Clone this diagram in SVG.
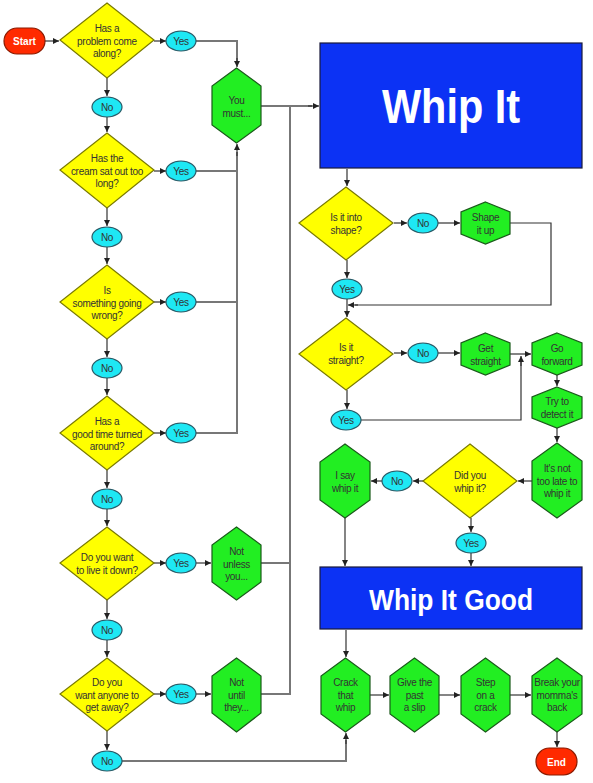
<svg xmlns="http://www.w3.org/2000/svg" width="593" height="783" viewBox="0 0 593 783">
<defs>
<marker id="ah" markerUnits="userSpaceOnUse" markerWidth="7" markerHeight="7" refX="6" refY="3" orient="auto">
<path d="M0,0 L6,3 L0,6 z" fill="#222"/>
</marker>
<style>
.dia{fill:#ffff00;stroke:#7a7a00;stroke-width:1.2}
.ell{fill:#1ee8f4;stroke:#2a5a66;stroke-width:1.2}
.hex{fill:#22ee22;stroke:#1a5a1a;stroke-width:1.2}
.term{fill:#ff2a00;stroke:#8a1a00;stroke-width:1.2}
.box{fill:#0c32f4;stroke:#1a1a3a;stroke-width:1.2}
.t{font-family:"Liberation Sans",Arial,sans-serif;font-size:10px;fill:#333;text-anchor:middle;letter-spacing:-0.3px}
.tw{font-family:"Liberation Sans",Arial,sans-serif;font-size:10px;font-weight:bold;fill:#fff;text-anchor:middle}
.big{font-family:"Liberation Sans",Arial,sans-serif;font-weight:bold;fill:#fff;text-anchor:middle}
.c{fill:none;stroke:#333;stroke-width:1.2}
.g{fill:none;stroke:#777;stroke-width:2}
.a{marker-end:url(#ah)}
</style>
</defs>
<rect width="593" height="783" fill="#fff"/>

<g id="connectors">
<line class="c a" x1="45" y1="41" x2="59" y2="41"/>
<line class="c a" x1="154" y1="41" x2="166" y2="41"/>
<polyline class="g" points="196,41 237,41 237,62"/>
<line class="c a" x1="237" y1="58" x2="237" y2="67"/>
<line class="c a" x1="107" y1="78" x2="107" y2="96"/>
<line class="c a" x1="107" y1="117" x2="107" y2="132"/>
<line class="c a" x1="154" y1="171" x2="166" y2="171"/>
<line class="g" x1="196" y1="171" x2="237" y2="171"/>
<line class="c a" x1="107" y1="208" x2="107" y2="226"/>
<line class="c a" x1="107" y1="247" x2="107" y2="264"/>
<line class="c a" x1="154" y1="302" x2="166" y2="302"/>
<line class="g" x1="196" y1="302" x2="237" y2="302"/>
<line class="c a" x1="107" y1="339" x2="107" y2="357"/>
<line class="c a" x1="107" y1="378" x2="107" y2="395"/>
<line class="c a" x1="154" y1="433" x2="166" y2="433"/>
<polyline class="g" points="196,433 237,433 237,152"/>
<line class="c a" x1="237" y1="156" x2="237" y2="144"/>
<line class="c a" x1="107" y1="470" x2="107" y2="488"/>
<line class="c a" x1="107" y1="509" x2="107" y2="526"/>
<line class="c a" x1="154" y1="563" x2="166" y2="563"/>
<line class="c a" x1="196" y1="563" x2="211" y2="563"/>
<line class="g" x1="261" y1="563" x2="290" y2="563"/>
<line class="c a" x1="107" y1="600" x2="107" y2="619"/>
<line class="c a" x1="107" y1="640" x2="107" y2="657"/>
<line class="c a" x1="154" y1="694" x2="166" y2="694"/>
<line class="c a" x1="196" y1="694" x2="211" y2="694"/>
<polyline class="g" points="261,694 290,694 290,106"/>
<line class="g" x1="261" y1="106" x2="312" y2="106"/>
<line class="c a" x1="308" y1="106" x2="319" y2="106"/>
<line class="c a" x1="107" y1="731" x2="107" y2="750"/>
<polyline class="g" points="122,761 346,761 346,740"/>
<line class="c a" x1="346" y1="744" x2="346" y2="733"/>
<line class="c a" x1="347" y1="169" x2="347" y2="186"/>
<line class="c a" x1="394" y1="223" x2="407" y2="223"/>
<line class="c a" x1="438" y1="223" x2="460" y2="223"/>
<polyline class="c" points="510,223 551,223 551,305 355,305"/>
<line class="c a" x1="358" y1="305" x2="348" y2="305"/>
<line class="c a" x1="347" y1="260" x2="347" y2="278"/>
<line class="c a" x1="347" y1="299" x2="347" y2="317"/>
<line class="c a" x1="394" y1="353" x2="407" y2="353"/>
<line class="c a" x1="438" y1="353" x2="460" y2="353"/>
<line class="c a" x1="510" y1="354" x2="531" y2="354"/>
<polyline class="c" points="361,420 521,420 521,362"/>
<line class="c a" x1="521" y1="366" x2="521" y2="356"/>
<line class="c a" x1="347" y1="390" x2="347" y2="409"/>
<line class="c a" x1="557" y1="375" x2="557" y2="386"/>
<line class="c a" x1="557" y1="428" x2="557" y2="442"/>
<line class="c a" x1="532" y1="481" x2="518" y2="481"/>
<line class="c a" x1="424" y1="481" x2="413" y2="481"/>
<line class="c a" x1="382" y1="481" x2="371" y2="481"/>
<line class="c a" x1="345" y1="518" x2="345" y2="566"/>
<line class="c a" x1="471" y1="518" x2="471" y2="532"/>
<line class="c a" x1="471" y1="553" x2="471" y2="566"/>
<line class="c a" x1="346" y1="630" x2="346" y2="657"/>
<line class="c a" x1="370" y1="695" x2="389" y2="695"/>
<line class="c a" x1="439" y1="695" x2="460" y2="695"/>
<line class="c a" x1="510" y1="695" x2="531" y2="695"/>
<line class="c a" x1="557" y1="732" x2="557" y2="747"/>
</g>

<g id="start">
<rect class="term" x="4" y="28" width="41" height="26" rx="13"/>
<text class="tw" x="24.5" y="45">Start</text>
</g>

<g id="q1">
<polygon class="dia" points="107,3 154,40 107,78 60,40"/>
<text class="t" x="107" y="32">Has a<tspan x="107" dy="12.5">problem come</tspan><tspan x="107" dy="12.5">along?</tspan></text>
</g>
<g id="yes1"><ellipse class="ell" cx="181" cy="41" rx="15" ry="10"/><text class="t" x="181" y="44.5">Yes</text></g>
<g id="no1"><ellipse class="ell" cx="107" cy="107" rx="15" ry="10"/><text class="t" x="107" y="110.5">No</text></g>

<g id="q2">
<polygon class="dia" points="107,133 154,170 107,208 60,170"/>
<text class="t" x="107" y="162">Has the<tspan x="107" dy="12.5">cream sat out too</tspan><tspan x="107" dy="12.5">long?</tspan></text>
</g>
<g id="yes2"><ellipse class="ell" cx="181" cy="171" rx="15" ry="10"/><text class="t" x="181" y="174.5">Yes</text></g>
<g id="no2"><ellipse class="ell" cx="107" cy="237" rx="15" ry="10"/><text class="t" x="107" y="240.5">No</text></g>

<g id="q3">
<polygon class="dia" points="107,265 154,302 107,339 60,302"/>
<text class="t" x="107" y="294">Is<tspan x="107" dy="12.5">something going</tspan><tspan x="107" dy="12.5">wrong?</tspan></text>
</g>
<g id="yes3"><ellipse class="ell" cx="181" cy="302" rx="15" ry="10"/><text class="t" x="181" y="305.5">Yes</text></g>
<g id="no3"><ellipse class="ell" cx="107" cy="368" rx="15" ry="10"/><text class="t" x="107" y="371.5">No</text></g>

<g id="q4">
<polygon class="dia" points="107,396 154,433 107,470 60,433"/>
<text class="t" x="107" y="425">Has a<tspan x="107" dy="12.5">good time turned</tspan><tspan x="107" dy="12.5">around?</tspan></text>
</g>
<g id="yes4"><ellipse class="ell" cx="181" cy="433" rx="15" ry="10"/><text class="t" x="181" y="436.5">Yes</text></g>
<g id="no4"><ellipse class="ell" cx="107" cy="499" rx="15" ry="10"/><text class="t" x="107" y="502.5">No</text></g>

<g id="q5">
<polygon class="dia" points="107,527 154,563 107,600 60,563"/>
<text class="t" x="107" y="561">Do you want<tspan x="107" dy="12.5">to live it down?</tspan></text>
</g>
<g id="yes5"><ellipse class="ell" cx="181" cy="563" rx="15" ry="10"/><text class="t" x="181" y="566.5">Yes</text></g>
<g id="no5"><ellipse class="ell" cx="107" cy="630" rx="15" ry="10"/><text class="t" x="107" y="633.5">No</text></g>

<g id="q6">
<polygon class="dia" points="107,658 154,694 107,731 60,694"/>
<text class="t" x="107" y="686">Do you<tspan x="107" dy="12.5">want anyone to</tspan><tspan x="107" dy="12.5">get away?</tspan></text>
</g>
<g id="yes6"><ellipse class="ell" cx="181" cy="694" rx="15" ry="10"/><text class="t" x="181" y="697.5">Yes</text></g>
<g id="no6"><ellipse class="ell" cx="107" cy="761" rx="15" ry="10"/><text class="t" x="107" y="764.5">No</text></g>

<g id="you-must">
<polygon class="hex" points="236.5,68 261,86 261,125 236.5,143 212,125 212,86"/>
<text class="t" x="236.5" y="104">You<tspan x="236.5" dy="12.5">must...</tspan></text>
</g>
<g id="not-unless">
<polygon class="hex" points="236.5,527 261,545 261,582 236.5,600 212,582 212,545"/>
<text class="t" x="236.5" y="555">Not<tspan x="236.5" dy="12.5">unless</tspan><tspan x="236.5" dy="12.5">you...</tspan></text>
</g>
<g id="not-until">
<polygon class="hex" points="236.5,658 261,676 261,713 236.5,732 212,713 212,676"/>
<text class="t" x="236.5" y="686">Not<tspan x="236.5" dy="12.5">until</tspan><tspan x="236.5" dy="12.5">they...</tspan></text>
</g>

<g id="whip-it">
<rect class="box" x="320" y="43" width="262" height="125"/>
<text class="big" x="451" y="123" font-size="48" textLength="138" lengthAdjust="spacingAndGlyphs">Whip It</text>
</g>

<g id="q7">
<polygon class="dia" points="346,187 393,223 346,260 299,223"/>
<text class="t" x="346" y="221">Is it into<tspan x="346" dy="12.5">shape?</tspan></text>
</g>
<g id="no7"><ellipse class="ell" cx="423" cy="223" rx="15" ry="10"/><text class="t" x="423" y="226.5">No</text></g>
<g id="shape-it-up">
<polygon class="hex" points="485.5,202 510,212 510,234 485.5,244 461,234 461,212"/>
<text class="t" x="485.5" y="221">Shape<tspan x="485.5" dy="12.5">it up</tspan></text>
</g>
<g id="yes7"><ellipse class="ell" cx="347" cy="289" rx="15" ry="10"/><text class="t" x="347" y="292.5">Yes</text></g>

<g id="q8">
<polygon class="dia" points="346,318 393,354 346,390 299,354"/>
<text class="t" x="346" y="351">Is it<tspan x="346" dy="12.5">straight?</tspan></text>
</g>
<g id="no8"><ellipse class="ell" cx="423" cy="353" rx="15" ry="10"/><text class="t" x="423" y="356.5">No</text></g>
<g id="get-straight">
<polygon class="hex" points="485.5,333 510,343 510,365 485.5,375 461,365 461,343"/>
<text class="t" x="485.5" y="352">Get<tspan x="485.5" dy="12.5">straight</tspan></text>
</g>
<g id="go-forward">
<polygon class="hex" points="557,333 582,343 582,365 557,375 532,365 532,343"/>
<text class="t" x="557" y="352">Go<tspan x="557" dy="12.5">forward</tspan></text>
</g>
<g id="yes8"><ellipse class="ell" cx="346" cy="420" rx="15" ry="10"/><text class="t" x="346" y="423.5">Yes</text></g>
<g id="try-to-detect">
<polygon class="hex" points="557,387 582,397 582,418 557,428 532,418 532,397"/>
<text class="t" x="557" y="405">Try to<tspan x="557" dy="12.5">detect it</tspan></text>
</g>
<g id="not-too-late">
<polygon class="hex" points="557,443 582,461 582,500 557,518 532,500 532,461"/>
<text class="t" x="557" y="472">It's not<tspan x="557" dy="12.5">too late to</tspan><tspan x="557" dy="12.5">whip it</tspan></text>
</g>
<g id="q9">
<polygon class="dia" points="470,444 517,481 470,518 423,481"/>
<text class="t" x="470" y="479">Did you<tspan x="470" dy="12.5">whip it?</tspan></text>
</g>
<g id="no9"><ellipse class="ell" cx="397" cy="481" rx="15" ry="10"/><text class="t" x="397" y="484.5">No</text></g>
<g id="i-say">
<polygon class="hex" points="345,444 370,462 370,500 345,518 320,500 320,462"/>
<text class="t" x="345" y="479">I say<tspan x="345" dy="12.5">whip it</tspan></text>
</g>
<g id="yes9"><ellipse class="ell" cx="471" cy="543" rx="15" ry="10"/><text class="t" x="471" y="546.5">Yes</text></g>

<g id="whip-it-good">
<rect class="box" x="320" y="567" width="262" height="62"/>
<text class="big" x="451" y="610" font-size="29" textLength="164" lengthAdjust="spacingAndGlyphs">Whip It Good</text>
</g>

<g id="crack-that-whip">
<polygon class="hex" points="345.5,658 370,676 370,714 345.5,732 321,714 321,676"/>
<text class="t" x="345.5" y="686">Crack<tspan x="345.5" dy="12.5">that</tspan><tspan x="345.5" dy="12.5">whip</tspan></text>
</g>
<g id="give-the-past">
<polygon class="hex" points="414.5,658 439,676 439,714 414.5,732 390,714 390,676"/>
<text class="t" x="414.5" y="686">Give the<tspan x="414.5" dy="12.5">past</tspan><tspan x="414.5" dy="12.5">a slip</tspan></text>
</g>
<g id="step-on-a-crack">
<polygon class="hex" points="485.5,658 510,676 510,714 485.5,732 461,714 461,676"/>
<text class="t" x="485.5" y="686">Step<tspan x="485.5" dy="12.5">on a</tspan><tspan x="485.5" dy="12.5">crack</tspan></text>
</g>
<g id="break-your-back">
<polygon class="hex" points="557,658 582,676 582,714 557,732 532,714 532,676"/>
<text class="t" x="557" y="686">Break your<tspan x="557" dy="12.5">momma's</tspan><tspan x="557" dy="12.5">back</tspan></text>
</g>
<g id="end">
<rect class="term" x="536" y="748" width="41" height="27" rx="13.5"/>
<text class="tw" x="556.5" y="765.5">End</text>
</g>
</svg>
